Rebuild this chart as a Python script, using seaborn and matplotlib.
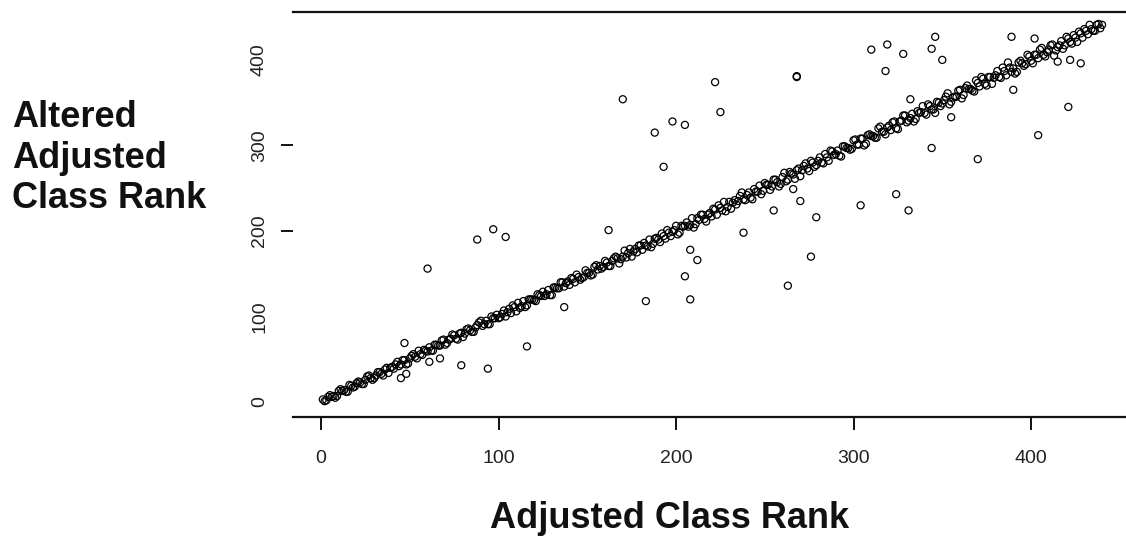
import matplotlib
matplotlib.use("Agg")
import matplotlib.pyplot as plt
import seaborn as sns
import pandas as pd

# Students lying on the main trend, odd ranks (adjusted rank vs. altered adjusted rank)
odd_x = [
    1, 3, 5, 7, 9, 11, 13, 15, 17, 19,
    21, 23, 25, 27, 29, 31, 33, 35, 37, 39,
    41, 43, 45, 47, 49, 51, 53, 55, 57, 59,
    61, 63, 65, 67, 69, 71, 73, 75, 77, 79,
    81, 83, 85, 87, 89, 91, 93, 95, 97, 99,
    101, 103, 105, 107, 109, 111, 113, 115, 117, 119,
    121, 123, 125, 127, 129, 131, 133, 135, 137, 139,
    141, 143, 145, 147, 149, 151, 153, 155, 157, 159,
    161, 163, 165, 167, 169, 171, 173, 175, 177, 179,
    181, 183, 185, 187, 189, 191, 193, 195, 197, 199,
    201, 203, 205, 207, 209, 211, 213, 215, 217, 219,
    221, 223, 225, 227, 229, 231, 233, 235, 237, 239,
    241, 243, 245, 247, 249, 251, 253, 255, 257, 259,
    261, 263, 265, 267, 269, 271, 273, 275, 277, 279,
    281, 283, 285, 287, 289, 291, 293, 295, 297, 299,
    301, 303, 305, 307, 309, 311, 313, 315, 317, 319,
    321, 323, 325, 327, 329, 331, 333, 335, 337, 339,
    341, 343, 345, 347, 349, 351, 353, 355, 357, 359,
    361, 363, 365, 367, 369, 371, 373, 375, 377, 379,
    381, 383, 385, 387, 389, 391, 393, 395, 397, 399,
    401, 403, 405, 407, 409, 411, 413, 415, 417, 419,
    421, 423, 425, 427, 429, 431, 433, 435, 437, 439,
]
odd_y = [
    3, 2, 8, 7, 7, 15, 14, 12, 19, 18,
    24, 21, 26, 31, 26, 31, 35, 31, 40, 40,
    39, 47, 44, 49, 45, 54, 53, 60, 55, 60,
    64, 60, 67, 66, 73, 69, 74, 78, 73, 81,
    80, 86, 82, 87, 93, 89, 95, 91, 98, 102,
    99, 107, 105, 104, 111, 116, 112, 111, 120, 120,
    118, 125, 129, 126, 125, 134, 133, 140, 135, 141,
    145, 140, 146, 145, 154, 151, 149, 160, 159, 158,
    163, 159, 168, 168, 167, 177, 174, 170, 179, 183,
    178, 183, 190, 185, 192, 187, 194, 201, 194, 201,
    196, 206, 206, 205, 215, 208, 213, 219, 211, 221,
    226, 219, 227, 234, 228, 226, 236, 235, 245, 236,
    245, 237, 246, 253, 247, 254, 248, 260, 257, 255,
    268, 260, 267, 261, 273, 271, 279, 270, 280, 277,
    286, 279, 286, 294, 289, 294, 287, 299, 297, 296,
    307, 301, 308, 302, 313, 311, 309, 322, 316, 321,
    318, 328, 319, 329, 335, 329, 337, 331, 338, 346,
    336, 346, 342, 351, 346, 353, 361, 351, 357, 364,
    355, 367, 366, 364, 376, 369, 378, 370, 380, 379,
    387, 379, 387, 397, 386, 384, 397, 396, 395, 404,
    396, 406, 412, 406, 409, 417, 405, 415, 422, 417,
    425, 419, 426, 433, 426, 434, 441, 434, 441, 437,
]

# Students lying on the main trend, even ranks
even_x = [
    2, 4, 6, 8, 10, 12, 14, 16, 18, 20,
    22, 24, 26, 28, 30, 32, 34, 36, 38, 40,
    42, 44, 46, 48, 50, 52, 54, 56, 58, 60,
    62, 64, 66, 68, 70, 72, 74, 76, 78, 80,
    82, 84, 86, 88, 90, 92, 94, 96, 98, 100,
    102, 104, 106, 108, 110, 112, 114, 116, 118, 120,
    122, 124, 126, 128, 130, 132, 134, 136, 138, 140,
    142, 144, 146, 148, 150, 152, 154, 156, 158, 160,
    162, 164, 166, 168, 170, 172, 174, 176, 178, 180,
    182, 184, 186, 188, 190, 192, 194, 196, 198, 200,
    202, 204, 206, 208, 210, 212, 214, 216, 218, 220,
    222, 224, 226, 228, 230, 232, 234, 236, 238, 240,
    242, 244, 246, 248, 250, 252, 254, 256, 258, 260,
    262, 264, 266, 268, 270, 272, 274, 276, 278, 280,
    282, 284, 286, 288, 290, 292, 294, 296, 298, 300,
    302, 304, 306, 308, 310, 312, 314, 316, 318, 320,
    322, 324, 326, 328, 330, 332, 334, 336, 338, 340,
    342, 344, 346, 348, 350, 352, 354, 356, 358, 360,
    362, 364, 366, 368, 370, 372, 374, 376, 378, 380,
    382, 384, 386, 388, 390, 392, 394, 396, 398, 400,
    402, 404, 406, 408, 410, 412, 414, 416, 418, 420,
    422, 424, 426, 428, 430, 432, 434, 436, 438, 440,
]
even_y = [
    1, 6, 6, 5, 13, 13, 12, 20, 17, 22,
    23, 21, 30, 28, 28, 35, 33, 38, 34, 41,
    44, 42, 49, 44, 51, 56, 51, 56, 61, 59,
    60, 67, 66, 72, 67, 73, 79, 74, 80, 76,
    85, 84, 82, 90, 95, 91, 91, 100, 98, 98,
    103, 100, 109, 113, 106, 110, 118, 113, 120, 119,
    126, 124, 124, 131, 125, 134, 133, 140, 139, 137,
    144, 149, 143, 146, 151, 148, 158, 155, 156, 165,
    159, 165, 170, 162, 170, 169, 179, 176, 175, 183,
    186, 182, 181, 191, 190, 197, 191, 198, 199, 206,
    198, 205, 210, 207, 204, 215, 219, 214, 219, 217,
    225, 230, 224, 223, 234, 233, 231, 241, 237, 242,
    239, 249, 246, 243, 256, 254, 252, 260, 252, 263,
    258, 269, 266, 271, 264, 276, 273, 282, 275, 282,
    280, 290, 282, 293, 290, 288, 299, 297, 295, 306,
    301, 308, 300, 312, 311, 309, 320, 316, 313, 323,
    327, 320, 328, 335, 327, 332, 328, 340, 339, 338,
    348, 342, 338, 350, 349, 357, 348, 356, 357, 365,
    359, 370, 366, 363, 373, 380, 372, 380, 372, 382,
    380, 391, 382, 391, 390, 386, 399, 393, 406, 399,
    406, 402, 414, 404, 412, 418, 411, 417, 413, 427,
    421, 429, 421, 431, 436, 430, 436, 434, 442, 441,
]

# Students whose rank moved noticeably
moved_x = [88, 97, 104, 60, 116, 137, 45, 48, 67, 61, 79, 94, 47,
           170, 188, 198, 205, 193, 222, 225, 268, 268, 266, 270, 255,
           162, 208, 212, 205, 183, 208, 238, 279, 276, 263,
           310, 319, 328, 346, 344, 318, 350, 332, 344, 370, 324, 304, 331,
           389, 402, 415, 422, 428, 421, 404, 390, 355]
moved_y = [190, 202, 193, 156, 65, 111, 28, 33, 51, 47, 43, 39, 69,
           354, 315, 328, 324, 275, 374, 339, 380, 381, 249, 235, 224,
           201, 178, 166, 147, 118, 120, 198, 216, 170, 136,
           412, 418, 407, 427, 413, 387, 400, 354, 297, 284, 243, 230, 224,
           427, 425, 398, 400, 396, 345, 312, 365, 333]

x_ticks = [0, 100, 200, 300, 400]
y_ticks = [0, 100, 200, 300, 400]

df = pd.DataFrame({
    "adjusted": odd_x + even_x + moved_x,
    "altered": odd_y + even_y + moved_y,
})

sns.set_style("white")
plt.rcParams["font.family"] = ["Liberation Sans", "DejaVu Sans"]

W, H = 1126, 537
fig = plt.figure(figsize=(W / 100, H / 100), dpi=100)
ax = fig.add_axes([293 / W, (H - 417) / H, (W - 293) / W, (417 - 12) / H])

sns.scatterplot(data=df, x="adjusted", y="altered", ax=ax,
                marker="o", s=26, linewidth=0.9, legend=False)
coll = ax.collections[0]
coll.set_facecolor("none")
coll.set_edgecolor("black")

ax.set_xlim(-15.8, 453.5)
ax.set_ylim(-17.5, 456)
ax.set_xticks(x_ticks)
ax.set_xticklabels([str(v) for v in x_ticks])
ax.set_yticks(y_ticks)
ax.set_yticklabels([str(v) for v in y_ticks])
ax.set_xlabel("")
ax.set_ylabel("")

for side in ("left", "right"):
    ax.spines[side].set_visible(False)
for side in ("top", "bottom"):
    ax.spines[side].set_visible(True)
    ax.spines[side].set_color("#111111")
    ax.spines[side].set_linewidth(1.6)

ax.tick_params(axis="x", direction="out", length=9, width=1.4, color="#111111",
               pad=15, labelsize=14, labelcolor="#222222", bottom=True)
ax.tick_params(axis="y", direction="out", length=9, width=1.4, color="#111111",
               pad=9, labelsize=14, labelcolor="#222222", left=True,
               labelrotation=90)
for lab in ax.get_yticklabels():
    lab.set_va("center")
# only the middle tick marks on the vertical axis are drawn
for val, tick in zip(y_ticks, ax.yaxis.get_major_ticks()):
    if val not in (200, 300):
        tick.tick1line.set_visible(False)

fig.text(670 / W, 1 - 518 / H, "Adjusted Class Rank", ha="center", va="center",
         fontsize=26, fontweight="bold", color="#111111")
fig.text(12 / W, 1 - 158 / H, "Altered\nAdjusted\nClass Rank", ha="left",
         va="center", fontsize=26, fontweight="bold", color="#111111",
         linespacing=1.2)

fig.savefig("out.png", dpi=100, facecolor="white")
